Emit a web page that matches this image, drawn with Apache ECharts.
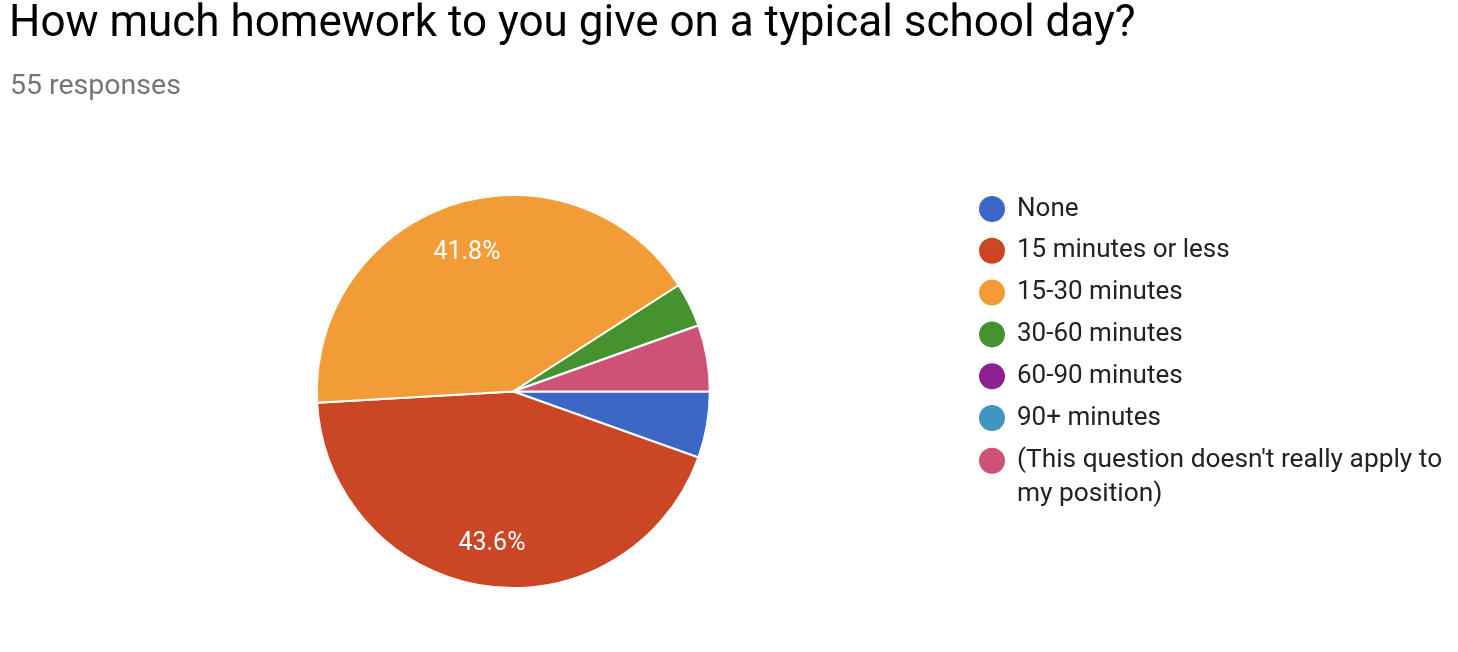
<!DOCTYPE html>
<html>
<head>
<meta charset="utf-8">
<script src="https://cdn.jsdelivr.net/npm/echarts@6/dist/echarts.min.js"></script>
<style>
  html, body { margin: 0; padding: 0; background: #fff; }
  #chart { width: 1458px; height: 652px; }
</style>
</head>
<body>
<div id="chart"></div>
<script>
const titleText = 'How much homework to you give on a typical school day?';
const subtitleText = '55 responses';
const categories = [
  'None',
  '15 minutes or less',
  '15-30 minutes',
  '30-60 minutes',
  '60-90 minutes',
  '90+ minutes',
  "(This question doesn't really apply to my position)"
];
const counts = [3, 24, 23, 2, 0, 0, 3];
const colors = ['#3c67c5', '#cb4625', '#f29c38', '#46922f', '#8b2192', '#4096c0', '#cd5276'];

const FONT = 'Roboto';
const R = 196.5;
const pieData = categories.map((c, i) => ({ name: c, value: counts[i] }));

// wrap a long legend label at a maximum character count
function wrapLabel(name, maxChars) {
  const words = name.split(' ');
  const lines = [];
  let cur = '';
  words.forEach(w => {
    if (cur && (cur + ' ' + w).length > maxChars) { lines.push(cur); cur = w; }
    else { cur = cur ? cur + ' ' + w : w; }
  });
  if (cur) lines.push(cur);
  return lines;
}

const legendText = {
  fontFamily: FONT, fontSize: 26, color: '#222', padding: [0, 0, 0, 7],
  rich: {
    g: { fontFamily: FONT, fontSize: 26, lineHeight: 34, color: '#222' },
    t: { fontFamily: FONT, fontSize: 26.3, lineHeight: 34, color: '#222' }
  }
};
const legendFormatter = name => {
  const lines = wrapLabel(name, 40);
  if (lines.length === 1) return name;
  const blanks = new Array(lines.length - 1).fill('{g| }');
  return blanks.concat(lines.map(l => '{t|' + l + '}')).join('\n');
};
const legendBase = {
  orient: 'vertical',
  left: 979,
  padding: 0,
  icon: 'circle',
  itemWidth: 26,
  itemHeight: 26,
  itemGap: 15.8,
  selectedMode: false,
  itemStyle: { borderWidth: 0 },
  textStyle: legendText,
  formatter: legendFormatter
};

const chart = echarts.init(document.getElementById('chart'));
chart.setOption({
  animation: false,
  color: colors,
  textStyle: { fontFamily: FONT },
  title: [
    { text: titleText, left: 9, top: 3, padding: 0,
      textStyle: { fontFamily: FONT, fontSize: 44, fontWeight: 'normal', color: '#000' } },
    { text: subtitleText, left: 10, top: 72, padding: 0,
      textStyle: { fontFamily: FONT, fontSize: 28.5, fontWeight: 'normal', color: '#757575' } }
  ],
  legend: [
    Object.assign({}, legendBase, { top: 196, data: categories.slice(0, 6) }),
    Object.assign({}, legendBase, { top: 413.8, data: categories.slice(6) })
  ],
  series: [
    {
      type: 'pie',
      center: [513.3, 391.5],
      radius: [0, R],
      startAngle: 0,
      clockwise: true,
      silent: true,
      itemStyle: { borderColor: '#fff', borderWidth: 2 },
      label: { show: false },
      labelLine: { show: false },
      emphasis: { disabled: true },
      data: pieData
    },
    {
      type: 'pie',
      center: [513.3, 391.5],
      radius: [97.5, R],
      startAngle: 0,
      clockwise: true,
      silent: true,
      itemStyle: { color: 'rgba(0,0,0,0)', borderWidth: 0 },
      label: {
        show: true,
        position: 'inside',
        fontFamily: FONT,
        fontSize: 25,
        color: '#fff',
        offset: [0, 3.5],
        formatter: p => (p.percent >= 10 ? p.percent.toFixed(1) + '%' : '')
      },
      labelLine: { show: false },
      emphasis: { disabled: true },
      data: pieData
    }
  ]
});
</script>
</body>
</html>
